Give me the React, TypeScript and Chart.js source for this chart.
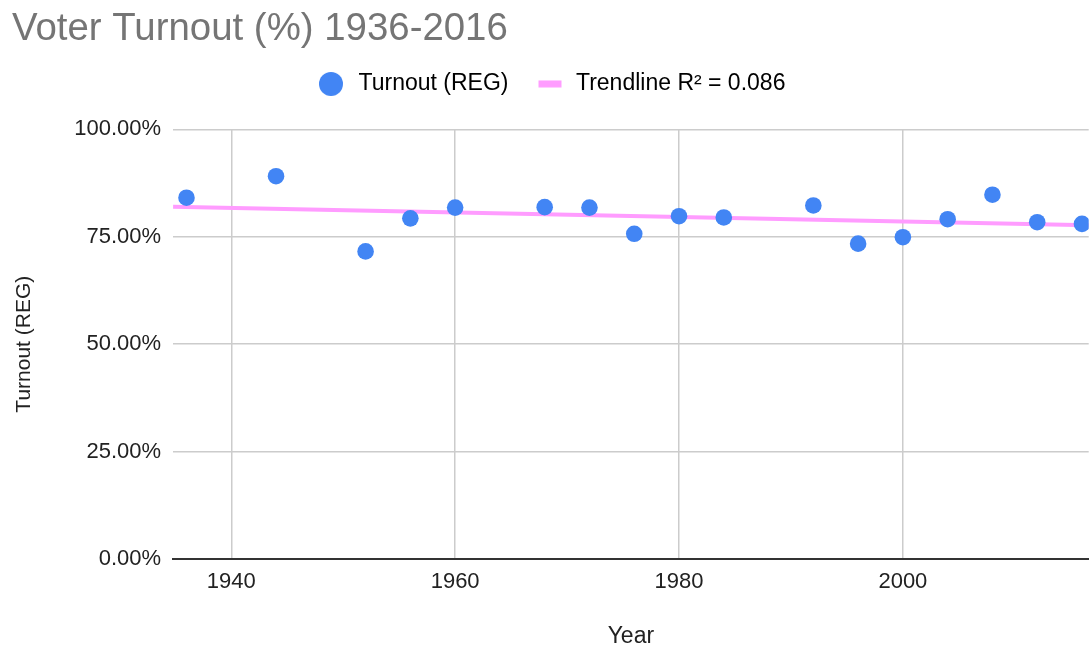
import React, { useEffect, useRef } from "react";
import { Chart, registerables } from "chart.js";

Chart.register(...registerables);

const titleText = "Voter Turnout (%) 1936-2016";
const seriesLabel = "Turnout (REG)";
const trendLabel = "Trendline R² = 0.086";
const xAxisTitle = "Year";
const yAxisTitle = "Turnout (REG)";

const years = [1936, 1944, 1952, 1956, 1960, 1968, 1972, 1976, 1980, 1984, 1992, 1996, 2000, 2004, 2008, 2012, 2016];
const turnout = [84.1, 89.1, 71.6, 79.3, 81.8, 81.9, 81.8, 75.7, 79.8, 79.5, 82.3, 73.4, 74.9, 79.1, 84.8, 78.4, 78.0];

const trendYears = [1934.8, 2016.6];
const trendValues = [82.0, 77.7];

const xTicks = [1940, 1960, 1980, 2000];
const yTicks = [0, 25, 50, 75, 100];

const BLUE = "#4285f4";
const PINK = "#ff9cff";
const FONT = "'Liberation Sans', Arial, sans-serif";

function makeCircleIcon() {
  const c = document.createElement("canvas");
  c.width = 32;
  c.height = 24;
  const ctx = c.getContext("2d")!;
  ctx.fillStyle = BLUE;
  ctx.beginPath();
  ctx.arc(16, 12, 12, 0, Math.PI * 2);
  ctx.fill();
  return c;
}

function makeLineIcon() {
  const c = document.createElement("canvas");
  c.width = 32;
  c.height = 8;
  const ctx = c.getContext("2d")!;
  ctx.fillStyle = PINK;
  ctx.fillRect(6, 0.5, 23, 7);
  return c;
}

const LEGEND_FIRST_X = 315;

const legendTweaks = {
  id: "legendTweaks",
  beforeInit(chart: any) {
    const legend = chart.legend;
    if (!legend) return;
    const origFit = legend.fit;
    legend.fit = function () {
      origFit.call(this);
      this.height += 24;
    };
  },
  afterLayout(chart: any) {
    const legend = chart.legend;
    if (!legend || !legend.lineWidths) return;
    const pad = legend.options.labels.padding;
    const lw = legend.lineWidths[0];
    // centre alignment: x = (left + pad + right - lw) / 2
    legend.right = 2 * LEGEND_FIRST_X - pad + lw - legend.left;
    legend.width = legend.right - legend.left;
  },
};

export default function App() {
  const ref = useRef<HTMLCanvasElement | null>(null);

  useEffect(() => {
    if (!ref.current) return;
    const circleIcon = makeCircleIcon();
    const lineIcon = makeLineIcon();

    const chart = new Chart(ref.current, {
      type: "scatter",
      plugins: [legendTweaks],
      data: {
        datasets: [
          {
            label: seriesLabel,
            data: years.map((y, i) => ({ x: y, y: turnout[i] })),
            backgroundColor: BLUE,
            borderColor: BLUE,
            pointRadius: 8.3,
            pointHoverRadius: 8.3,
            pointBorderWidth: 0,
            order: 0,
          },
          {
            label: trendLabel,
            type: "line",
            data: trendYears.map((y, i) => ({ x: y, y: trendValues[i] })),
            borderColor: PINK,
            backgroundColor: PINK,
            borderWidth: 4,
            pointRadius: 0,
            fill: false,
            order: 1,
          } as any,
        ],
      },
      options: {
        responsive: false,
        maintainAspectRatio: false,
        animation: false,
        layout: { padding: { left: 12, right: 0, top: 0, bottom: 0 } },
        plugins: {
          title: {
            display: true,
            text: titleText,
            align: "start",
            color: "#757575",
            font: { family: FONT, size: 38.4, weight: "normal", lineHeight: 1.0 },
            padding: { top: 10, bottom: 0 },
          },
          legend: {
            display: true,
            position: "top",
            labels: {
              usePointStyle: true,
              pointStyleWidth: 32,
              boxHeight: 23,
              padding: 24,
              color: "#222222",
              font: { family: FONT, size: 23 },
              generateLabels: () => [
                {
                  text: seriesLabel,
                  pointStyle: circleIcon as any,
                  fillStyle: BLUE,
                  strokeStyle: BLUE,
                  lineWidth: 0,
                  hidden: false,
                  datasetIndex: 0,
                },
                {
                  text: trendLabel,
                  pointStyle: lineIcon as any,
                  fillStyle: PINK,
                  strokeStyle: PINK,
                  lineWidth: 0,
                  hidden: false,
                  datasetIndex: 1,
                },
              ],
            },
          },
          tooltip: { enabled: false },
        },
        scales: {
          x: {
            type: "linear",
            min: trendYears[0],
            max: trendYears[1],
            afterBuildTicks: (scale: any) => {
              scale.ticks = xTicks.map((v) => ({ value: v }));
            },
            grid: { color: "#cccccc", lineWidth: 1.5, drawTicks: false },
            border: { display: true, color: "#333333", width: 2 },
            ticks: {
              color: "#222222",
              font: { family: FONT, size: 22 },
              padding: 10,
              maxRotation: 0,
              callback: (v: any) => String(v),
            },
            title: {
              display: true,
              text: xAxisTitle,
              color: "#222222",
              font: { family: FONT, size: 23 },
              padding: { top: 17, bottom: 0 },
            },
          },
          y: {
            type: "linear",
            min: 0,
            max: 100,
            afterBuildTicks: (scale: any) => {
              scale.ticks = yTicks.map((v) => ({ value: v }));
            },
            grid: { color: "#cccccc", lineWidth: 1.5, drawTicks: false },
            border: { display: false },
            ticks: {
              color: "#222222",
              font: { family: FONT, size: 22 },
              padding: 12,
              callback: (v: any) => Number(v).toFixed(2) + "%",
            },
            title: {
              display: true,
              text: yAxisTitle,
              color: "#222222",
              font: { family: FONT, size: 21 },
              padding: { top: 0, bottom: 25 },
            },
          },
        },
      },
    });
    return () => chart.destroy();
  }, []);

  return (
    <div style={{ position: "fixed", left: 0, top: 0, width: 1089, height: 650, overflow: "hidden", background: "#ffffff" }}>
      <canvas ref={ref} width={1097} height={650} style={{ display: "block" }} />
    </div>
  );
}
